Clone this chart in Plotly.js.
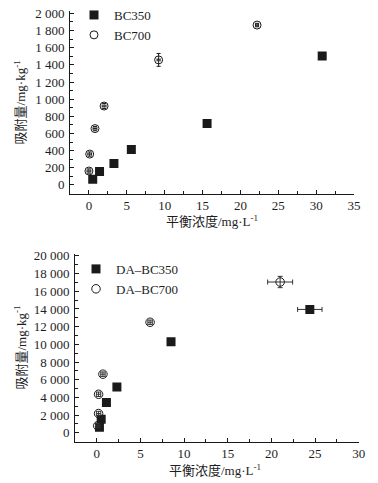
<!DOCTYPE html>
<html>
<head>
<meta charset="utf-8">
<script src="https://cdn.plot.ly/plotly-3.0.1.min.js"></script>
<style>html,body{margin:0;padding:0;background:#fff;}#chart{width:378px;height:483px;}</style>
</head>
<body>
<div id="chart"></div>
<script>
// Top panel: BC350 / BC700
var bc350X = [0.5, 1.4, 3.3, 5.6, 15.6, 30.8];
var bc350Y = [65, 158, 251, 413, 715, 1504];
var bc700X = [0.0, 0.1, 0.8, 2.0, 9.2, 22.2];
var bc700Y = [162, 360, 657, 920, 1458, 1864];
var bc700ErrX = [0.25, 0.25, 0.25, 0.25, 0.2, 0.2];
var bc700ErrY = [25, 25, 25, 30, 75, 20];

// Bottom panel: DA-BC350 / DA-BC700
var da350X = [0.3, 0.5, 1.1, 2.3, 8.5, 24.4];
var da350Y = [620, 1530, 3420, 5180, 10300, 13950];
var da350ErrX = [0, 0, 0, 0, 0, 1.4];
var da700X = [0.1, 0.2, 0.2, 0.7, 6.1, 21.0];
var da700Y = [800, 2180, 4360, 6630, 12500, 17050];
var da700ErrX = [0.25, 0.25, 0.25, 0.25, 0.25, 1.43];
var da700ErrY = [250, 250, 250, 250, 250, 640];

var names = ['BC350', 'BC700', 'DA\u2013BC350', 'DA\u2013BC700'];
var xTitle = '平衡浓度/mg·L<sup>-1</sup>';
var yTitle = '吸附量/mg·kg<sup>-1</sup>';

var serif = '"Liberation Serif", "Times New Roman", "Noto Sans CJK SC", serif';
var ink = '#1a1a1a';

var traces = [
  {x: bc350X, y: bc350Y, name: names[0], type: 'scatter', mode: 'markers',
   xaxis: 'x', yaxis: 'y', legend: 'legend',
   marker: {symbol: 'square', size: 9, color: ink, line: {width: 0}}},
  {x: bc700X, y: bc700Y, name: names[1], type: 'scatter', mode: 'markers',
   xaxis: 'x', yaxis: 'y', legend: 'legend',
   error_x: {type: 'data', array: bc700ErrX, visible: true, color: ink, thickness: 1, width: 1.5},
   error_y: {type: 'data', array: bc700ErrY, visible: true, color: ink, thickness: 1, width: 2},
   marker: {symbol: 'circle-open', size: 8, color: ink, line: {width: 1, color: ink}}},
  {x: da350X, y: da350Y, name: names[2], type: 'scatter', mode: 'markers',
   xaxis: 'x2', yaxis: 'y2', legend: 'legend2',
   error_x: {type: 'data', array: da350ErrX, visible: true, color: '#333', thickness: 1, width: 2.5},
   marker: {symbol: 'square', size: 9, color: ink, line: {width: 0}}},
  {x: da700X, y: da700Y, name: names[3], type: 'scatter', mode: 'markers',
   xaxis: 'x2', yaxis: 'y2', legend: 'legend2',
   error_x: {type: 'data', array: da700ErrX, visible: true, color: '#333', thickness: 1, width: 2.5},
   error_y: {type: 'data', array: da700ErrY, visible: true, color: '#333', thickness: 1, width: 2.5},
   marker: {symbol: 'circle-open', size: 8.5, color: ink, line: {width: 1, color: ink}}}
];

function xAx(domain, range, anchor) {
  return {domain: domain, range: range, anchor: anchor, dtick: 5, tick0: 0,
    ticks: 'inside', ticklen: 4, tickwidth: 1, tickcolor: ink,
    minor: {dtick: 2.5, ticks: 'inside', ticklen: 3, tickwidth: 1, tickcolor: ink},
    showline: true, linecolor: ink, linewidth: 1, showgrid: false, zeroline: false,
    tickfont: {family: serif, size: 13, color: '#1e1e1e'}, fixedrange: true};
}
function yAx(domain, range, anchor, dt) {
  return {domain: domain, range: range, anchor: anchor, dtick: dt, tick0: 0,
    tickformat: ',d',
    ticks: 'inside', ticklen: 4, tickwidth: 1, tickcolor: ink,
    minor: {dtick: dt / 2, ticks: 'inside', ticklen: 3, tickwidth: 1, tickcolor: ink},
    showline: true, linecolor: ink, linewidth: 1, showgrid: false, zeroline: false,
    ticklabelstandoff: 2,
    tickfont: {family: serif, size: 13, color: '#1e1e1e'}, fixedrange: true};
}

var W = 378, H = 483;
var layout = {
  width: W, height: H,
  margin: {l: 0, r: 0, t: 0, b: 0},
  paper_bgcolor: '#fff', plot_bgcolor: '#fff',
  separators: '. ',
  showlegend: true,
  xaxis: xAx([70 / W, 354 / W], [-2.5, 35], 'y'),
  yaxis: yAx([(H - 192.3) / H, (H - 9.3) / H], [-100, 2025], 'x', 200),
  xaxis2: xAx([75 / W, 358.7 / W], [-2.5, 30], 'y2'),
  yaxis2: yAx([(H - 441.5) / H, (H - 253.2) / H], [-1000, 20200], 'x2', 2000),
  legend: {x: 74 / W, y: 1 + 2 / H, xanchor: 'left', yanchor: 'top',
    bgcolor: 'rgba(0,0,0,0)', borderwidth: 0, tracegroupgap: 0,
    font: {family: serif, size: 13, color: '#1e1e1e'}},
  legend2: {x: 76 / W, y: 1 - 253 / H, xanchor: 'left', yanchor: 'top',
    bgcolor: 'rgba(0,0,0,0)', borderwidth: 0, tracegroupgap: 0,
    font: {family: serif, size: 13, color: '#1e1e1e'}},
  annotations: [
    {text: yTitle, xref: 'paper', yref: 'paper', x: 20 / W, y: (H - 100.8) / H,
     textangle: -90, showarrow: false, xanchor: 'center', yanchor: 'middle',
     font: {family: serif, size: 13, color: '#1e1e1e'}},
    {text: xTitle, xref: 'paper', yref: 'paper', x: 212 / W, y: (H - 220) / H,
     showarrow: false, xanchor: 'center', yanchor: 'middle',
     font: {family: serif, size: 13, color: '#1e1e1e'}},
    {text: yTitle, xref: 'paper', yref: 'paper', x: 20 / W, y: (H - 347) / H,
     textangle: -90, showarrow: false, xanchor: 'center', yanchor: 'middle',
     font: {family: serif, size: 13, color: '#1e1e1e'}},
    {text: xTitle, xref: 'paper', yref: 'paper', x: 215 / W, y: (H - 470) / H,
     showarrow: false, xanchor: 'center', yanchor: 'middle',
     font: {family: serif, size: 13, color: '#1e1e1e'}}
  ]
};

Plotly.newPlot('chart', traces, layout, {staticPlot: true, displayModeBar: false});
</script>
</body>
</html>
